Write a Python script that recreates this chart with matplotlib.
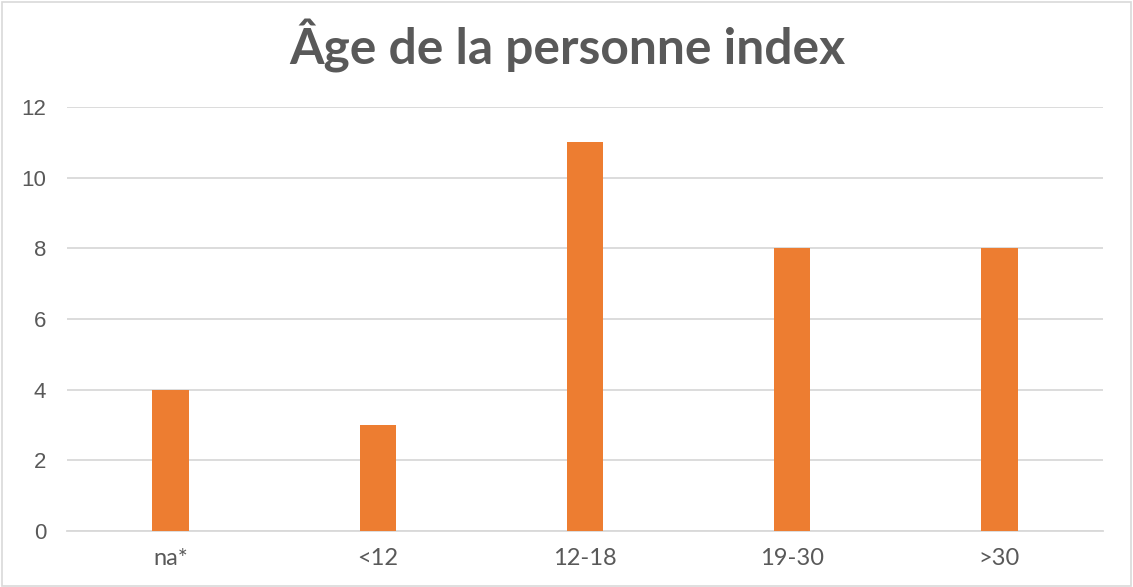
import matplotlib.pyplot as plt
from matplotlib.patches import Rectangle

categories = ['na*', '<12', '12-18', '19-30', '>30']
counts = [4, 3, 11, 8, 8]
y_ticks = [0, 2, 4, 6, 8, 10, 12]

W, H = 1133, 587
fig = plt.figure(figsize=(W / 100, H / 100), dpi=100)
fig.patch.set_facecolor('white')

# plot area in pixels
x0, x1 = 67, 1103
y0, y1 = 531, 107
ax = fig.add_axes([x0 / W, (H - y0) / H, (x1 - x0) / W, (y0 - y1) / H])

ax.bar(range(len(categories)), counts, width=0.175, color='#ED7D31', zorder=3)
ax.set_xlim(-0.5, len(categories) - 0.5)
ax.set_ylim(0, 12)
ax.set_yticks(y_ticks)
ax.yaxis.grid(True, color='#d9d9d9', linewidth=1.3, zorder=0)
ax.set_axisbelow(True)
for s in ['top', 'right', 'left']:
    ax.spines[s].set_visible(False)
ax.spines['bottom'].set_color('#d9d9d9')
ax.spines['bottom'].set_linewidth(1.3)

ax.set_xticks(range(len(categories)))
ax.set_xticklabels(categories, fontfamily='Lato', fontsize=17, color='#595959')
ax.set_yticklabels([str(t) for t in y_ticks], fontfamily='Liberation Sans', fontsize=16, color='#595959')
ax.tick_params(axis='both', length=0)
ax.tick_params(axis='x', pad=12)
ax.tick_params(axis='y', pad=15)

fig.text(567 / W, 1 - 46 / H, 'Âge de la personne index', ha='center', va='center',
         fontfamily='Lato', fontweight='bold', fontsize=35.8, color='#595959')

# thin light border round the chart
fig.patches.append(Rectangle((2 / W, 1 / H), (W - 4) / W, (H - 3) / H, transform=fig.transFigure,
                             fill=False, edgecolor='#d9d9d9', linewidth=1.2))

fig.savefig('out.png', dpi=100)
